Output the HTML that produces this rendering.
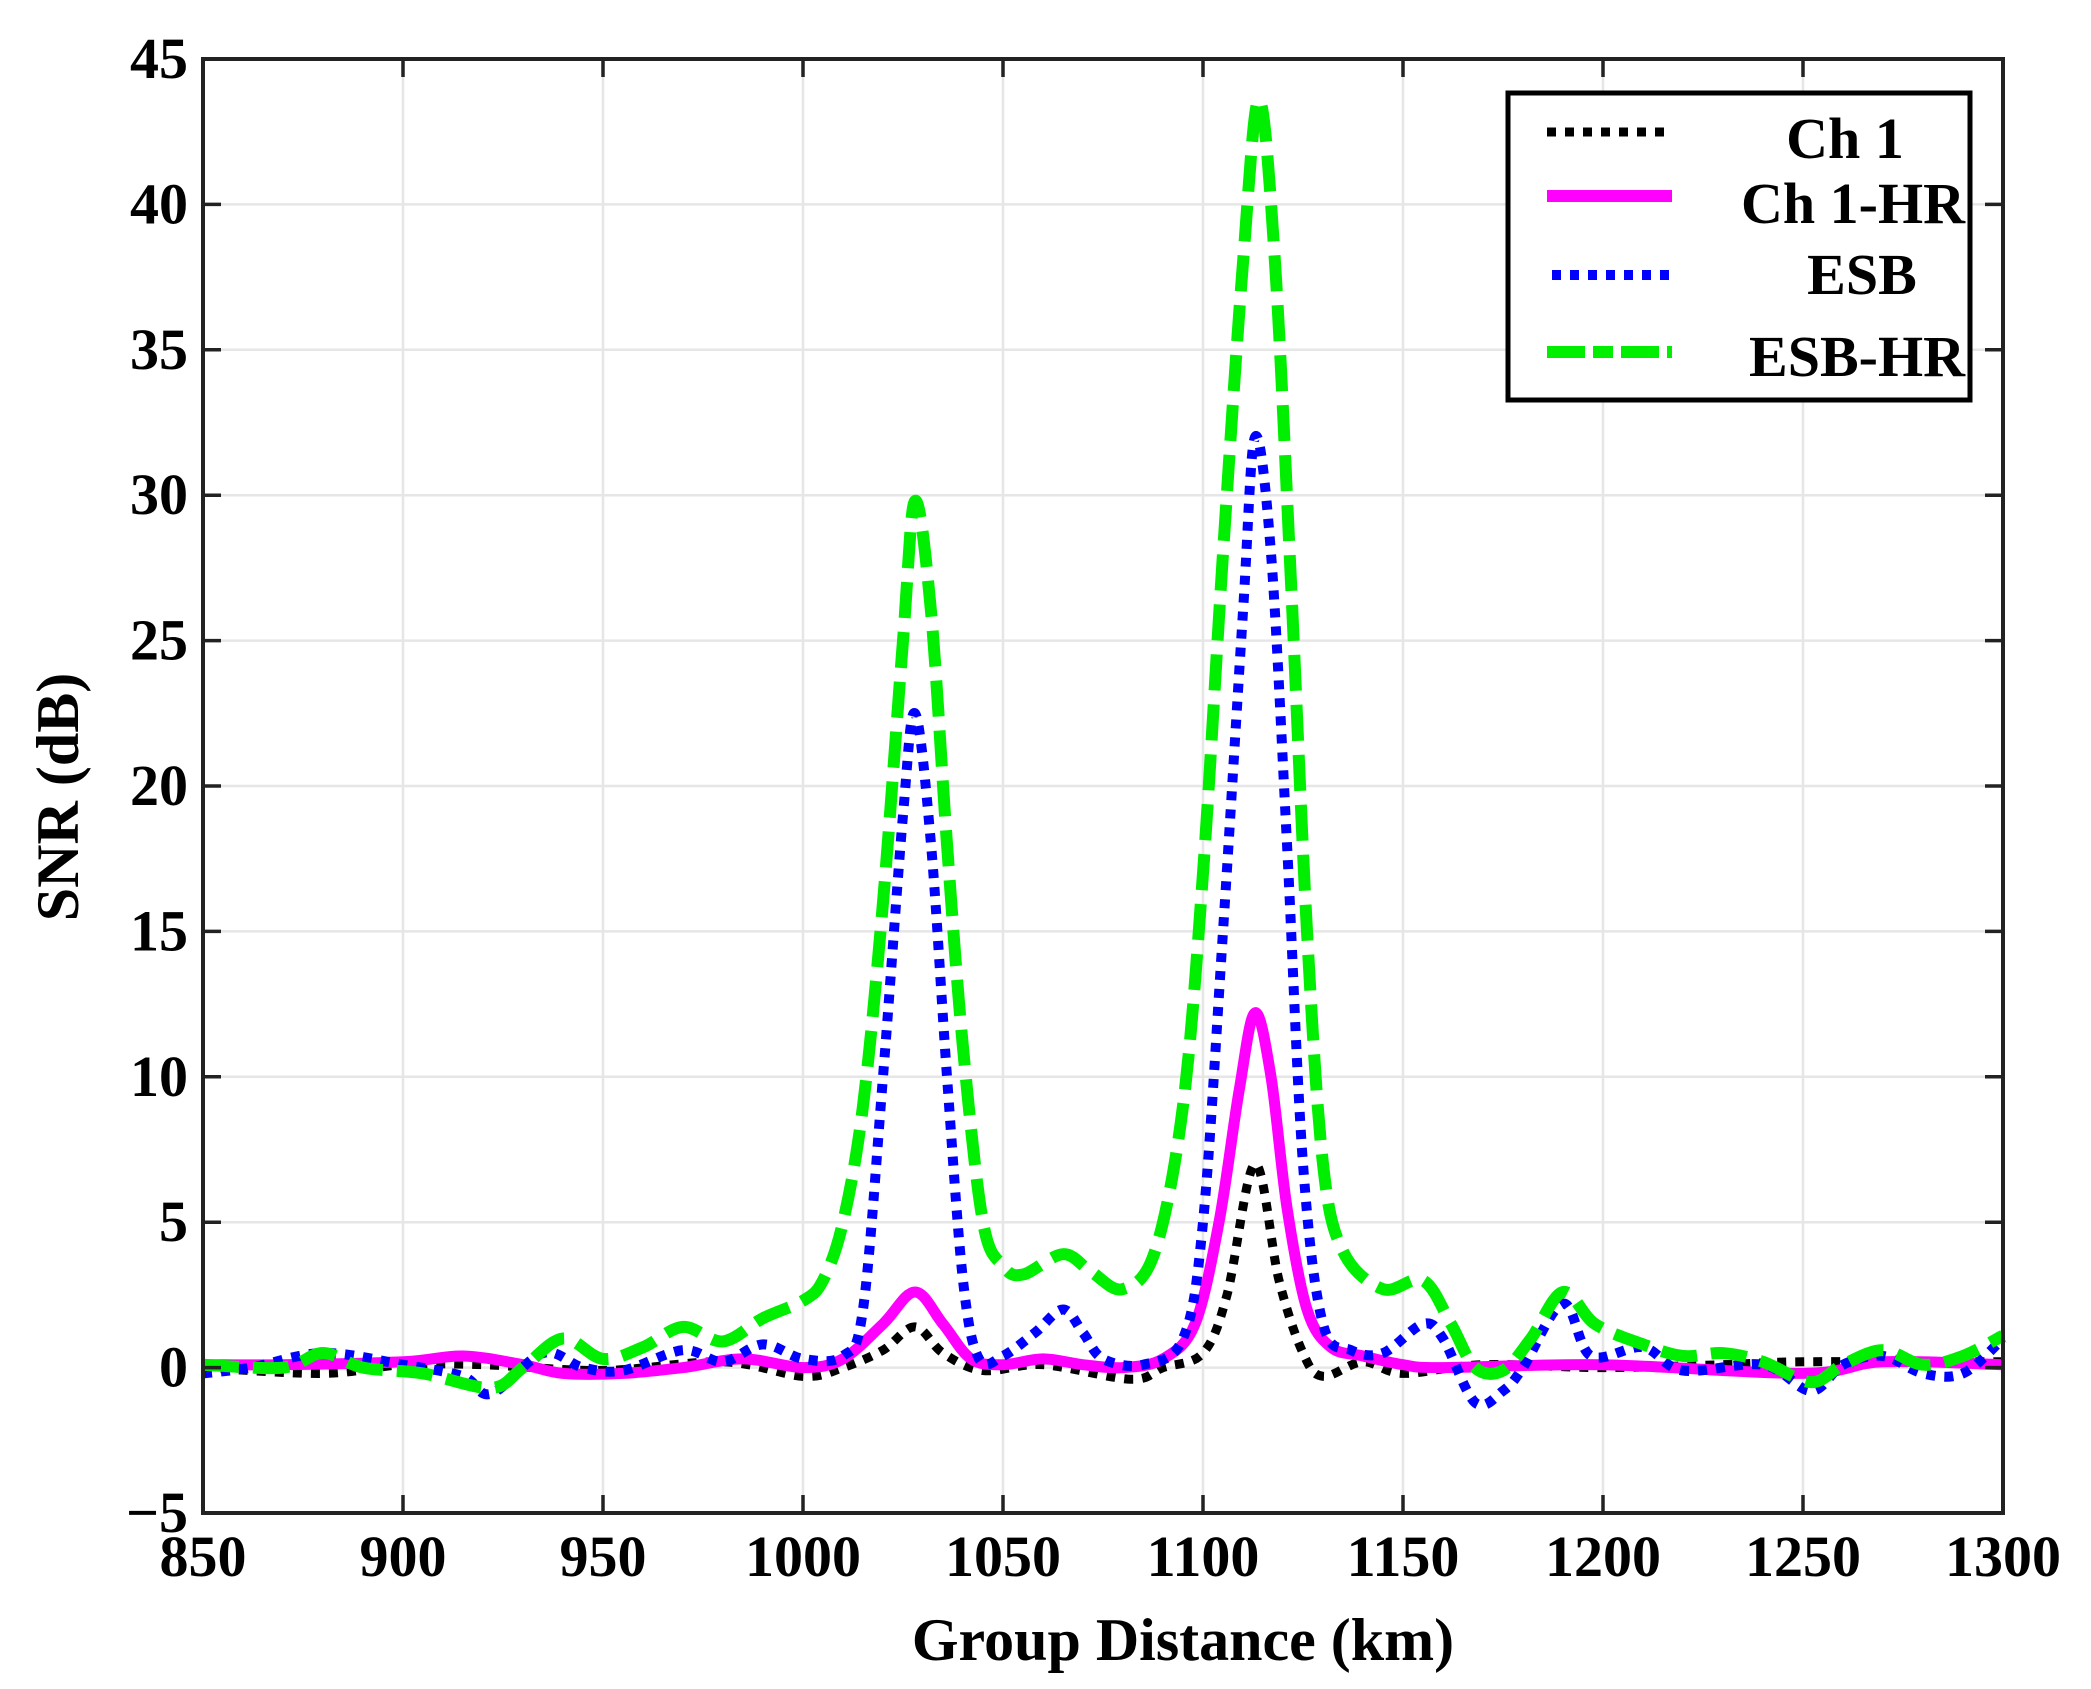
<!DOCTYPE html>
<html><head><meta charset="utf-8"><style>
body{margin:0;background:#fff}
svg text{font-family:"Liberation Serif",serif;font-weight:bold;fill:#000}
</style></head><body>
<svg id="s" width="2091" height="1684" xmlns="http://www.w3.org/2000/svg"></svg>
<script>
const X=k=>203+(k-850)*4.0, Y=v=>59+(45-v)*29.08;
const s=document.getElementById('s');let h='';
for(let k=850;k<=1300;k+=50){h+=`<line x1="${X(k)}" y1="59" x2="${X(k)}" y2="1513" stroke="#e6e6e6" stroke-width="2.5"/>`;}
for(let v=-5;v<=45;v+=5){h+=`<line x1="203" y1="${Y(v)}" x2="2003" y2="${Y(v)}" stroke="#e6e6e6" stroke-width="2.5"/>`;}
function path(pts){let p=pts.map(a=>[X(a[0]),Y(a[1])]);let d=`M${p[0][0]},${p[0][1]}`;
for(let i=0;i<p.length-1;i++){const p0=p[i-1]||p[i],p1=p[i],p2=p[i+1],p3=p[i+2]||p2;
d+=` C${p1[0]+(p2[0]-p0[0])/6},${p1[1]+(p2[1]-p0[1])/6} ${p2[0]-(p3[0]-p1[0])/6},${p2[1]-(p3[1]-p1[1])/6} ${p2[0]},${p2[1]}`;}return d;}
const mag=[[850,0.1],[870,0.1],[900,0.2],[915,0.4],[930,0.1],[940,-0.2],[955,-0.2],[970,0],[985,0.3],[1000,0],[1010,0.3],[1020,1.5],[1028,2.6],[1035,1.5],[1042,0.3],[1050,0.1],[1060,0.3],[1070,0.1],[1080,0],[1090,0.3],[1098,1.5],[1104,5],[1109,9.5],[1113,12.2],[1117,10],[1121,5.5],[1126,2],[1132,0.7],[1140,0.4],[1150,0.1],[1160,0],[1200,0.1],[1250,-0.2],[1270,0.2],[1300,0.1]];
const blk=[[850,0],[880,-0.2],[900,0.1],[920,0.1],[950,-0.1],[980,0.2],[1000,-0.3],[1010,0],[1020,0.6],[1028,1.4],[1035,0.5],[1045,-0.1],[1060,0.1],[1082,-0.4],[1090,0],[1100,0.5],[1106,2.5],[1113,7],[1119,3],[1125,0.5],[1130,-0.3],[1140,0.2],[1150,-0.2],[1170,0.1],[1200,0],[1230,0.1],[1250,0.2],[1300,0.2]];
const blu=[[850,-0.2],[862,0],[880,0.5],[900,0.1],[915,-0.3],[922,-0.9],[935,0.5],[945,0],[955,-0.1],[970,0.6],[980,0.2],[990,0.8],[1000,0.3],[1010,0.4],[1015,2],[1020,10],[1025,19],[1028,22.5],[1032,18],[1036,10],[1040,3],[1044,0.3],[1050,0.4],[1058,1.2],[1065,2],[1070,1.2],[1075,0.3],[1085,0.1],[1095,1],[1100,5],[1105,15],[1110,26],[1113,32],[1117,28],[1121,18],[1125,7],[1130,1.5],[1137,0.6],[1145,0.5],[1155,1.5],[1160,1],[1168,-1.2],[1175,-0.8],[1180,0],[1190,2.2],[1197,0.4],[1210,0.7],[1220,-0.1],[1240,0.1],[1252,-0.8],[1260,0.1],[1270,0.4],[1280,-0.2],[1290,-0.2],[1300,1]];
const grn=[[850,0.1],[870,0],[880,0.5],[890,0],[905,-0.2],[922,-0.7],[930,0],[940,1],[950,0.3],[960,0.7],[970,1.4],[980,0.9],[990,1.7],[1000,2.3],[1005,3],[1010,5],[1015,9],[1020,16],[1025,25],[1028,29.8],[1032,26],[1036,18],[1040,11],[1045,5],[1050,3.5],[1055,3.2],[1065,3.9],[1072,3.3],[1080,2.7],[1088,4],[1095,9],[1100,17],[1105,28],[1110,38],[1114,43.6],[1118,38],[1122,27],[1126,15],[1130,7],[1135,4],[1145,2.7],[1155,3],[1162,1.5],[1168,0],[1175,-0.1],[1182,1],[1190,2.6],[1198,1.5],[1210,0.8],[1220,0.4],[1230,0.5],[1240,0.2],[1252,-0.5],[1260,0.1],[1270,0.6],[1280,0.1],[1290,0.4],[1300,1.1]];
h+=`<g fill="none"><path d="${path(blk)}" stroke="#000" stroke-width="9" stroke-dasharray="9 9"/>`;
h+=`<path d="${path(mag)}" stroke="#ff00ff" stroke-width="11"/>`;
h+=`<path d="${path(blu)}" stroke="#0000ff" stroke-width="10" stroke-dasharray="9 9"/>`;
h+=`<path d="${path(grn)}" stroke="#00ee00" stroke-width="12" stroke-dasharray="36 14"/></g>`;
h+=`<rect x="203" y="59" width="1800" height="1454" fill="none" stroke="#222" stroke-width="4"/>`;
for(let k=850;k<=1300;k+=50){const x=X(k);h+=`<line x1="${x}" y1="1513" x2="${x}" y2="1495" stroke="#222" stroke-width="3.5"/><line x1="${x}" y1="59" x2="${x}" y2="77" stroke="#222" stroke-width="3.5"/><text x="${x}" y="1576" font-size="58" text-anchor="middle">${k}</text>`;}
for(let v=-5;v<=45;v+=5){const y=Y(v);h+=`<line x1="203" y1="${y}" x2="221" y2="${y}" stroke="#222" stroke-width="3.5"/><line x1="2003" y1="${y}" x2="1985" y2="${y}" stroke="#222" stroke-width="3.5"/><text x="188" y="${y+19}" font-size="58" text-anchor="end">${v<0?'\u2212'+(-v):v}</text>`;}
h+=`<text x="1183" y="1660" font-size="60" text-anchor="middle">Group Distance (km)</text>`;
h+=`<text transform="translate(78,797) rotate(-90)" font-size="60" text-anchor="middle">SNR (dB)</text>`;
h+=`<rect x="1508" y="93" width="462" height="307" fill="#fff" stroke="#000" stroke-width="5"/>`;
h+=`<line x1="1547" y1="132" x2="1672" y2="132" stroke="#000" stroke-width="9" stroke-dasharray="9 9"/>`;
h+=`<line x1="1547" y1="196" x2="1672" y2="196" stroke="#ff00ff" stroke-width="12"/>`;
h+=`<line x1="1552" y1="275" x2="1677" y2="275" stroke="#0000ff" stroke-width="10" stroke-dasharray="9 9"/>`;
h+=`<line x1="1547" y1="352" x2="1672" y2="352" stroke="#00ee00" stroke-width="12" stroke-dasharray="38 8 20 8"/>`;
h+=`<text x="1845" y="158" font-size="58" text-anchor="middle">Ch 1</text>`;
h+=`<text x="1965" y="223" font-size="58" text-anchor="end">Ch 1-HR</text>`;
h+=`<text x="1862" y="294" font-size="58" text-anchor="middle">ESB</text>`;
h+=`<text x="1965" y="376" font-size="58" text-anchor="end">ESB-HR</text>`;
s.innerHTML=h;
</script>
</body></html>
